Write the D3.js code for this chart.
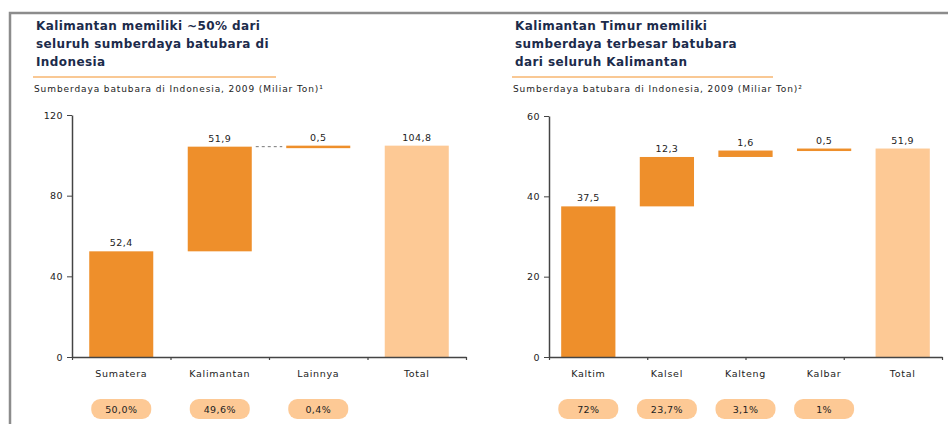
<!DOCTYPE html>
<html>
<head>
<meta charset="utf-8">
<script src="https://cdn.jsdelivr.net/npm/d3@7"></script>
<style>
  body { margin: 0; background: #fff; }
  svg { display: block; font-family: "DejaVu Sans", sans-serif; }
</style>
</head>
<body>
<svg id="chart" width="948" height="424"></svg>
<script>
// left panel data
var leftTitle = ["Kalimantan memiliki ~50% dari", "seluruh sumberdaya batubara di", "Indonesia"];
var leftSub = "Sumberdaya batubara di Indonesia, 2009 (Miliar Ton)\u00b9";
var leftCats = ["Sumatera", "Kalimantan", "Lainnya", "Total"];
var leftValues = [52.4, 51.9, 0.5, 104.8];
var leftLabels = ["52,4", "51,9", "0,5", "104,8"];
var leftShares = ["50,0%", "49,6%", "0,4%"];
var leftTicks = [0, 40, 80, 120];

// right panel data
var rightTitle = ["Kalimantan Timur memiliki", "sumberdaya terbesar batubara", "dari seluruh Kalimantan"];
var rightSub = "Sumberdaya batubara di Indonesia, 2009 (Miliar Ton)\u00b2";
var rightCats = ["Kaltim", "Kalsel", "Kalteng", "Kalbar", "Total"];
var rightValues = [37.5, 12.3, 1.6, 0.5, 51.9];
var rightLabels = ["37,5", "12,3", "1,6", "0,5", "51,9"];
var rightShares = ["72%", "23,7%", "3,1%", "1%"];
var rightTicks = [0, 20, 40, 60];

var orange = "#ee8f2b";
var light = "#fdc995";
var navy = "#1c2b4b";

var svg = d3.select("#chart");

// frame
svg.append("path")
    .attr("d", "M10,424 V13 H948")
    .attr("fill", "none")
    .attr("stroke", "#8c8c8c")
    .attr("stroke-width", 2.5);

function drawPanel(opt) {
    var g = svg.append("g");

    // title
    g.selectAll(".title").data(opt.title).enter().append("text")
        .attr("x", opt.tx)
        .attr("y", function (d, i) { return 30 + i * 18; })
        .attr("font-size", 12)
        .attr("font-weight", "bold")
        .attr("fill", navy)
        .attr("letter-spacing", 0.4)
        .text(function (d) { return d; });

    g.append("line")
        .attr("x1", opt.tx - 3).attr("x2", opt.lineEnd)
        .attr("y1", 77).attr("y2", 77)
        .attr("stroke", "#f9c894")
        .attr("stroke-width", 2);

    g.append("text")
        .attr("x", opt.tx - 2)
        .attr("y", 92)
        .attr("font-size", 9)
        .attr("letter-spacing", 0.9)
        .attr("fill", "#222")
        .text(opt.sub);

    var y = d3.scaleLinear().domain([0, opt.max]).range([357, opt.top]);
    var x = d3.scaleBand().domain(opt.cats).range([opt.x0, opt.x1])
        .paddingInner(opt.pad).paddingOuter(opt.pad / 2);

    // waterfall bases
    var bars = [];
    var run = 0;
    opt.values.forEach(function (v, i) {
        var total = i == opt.values.length - 1;
        var base = total ? 0 : run;
        bars.push({ cat: opt.cats[i], base: base, end: base + v, label: opt.labels[i], total: total });
        if (!total) run += v;
    });

    g.selectAll(".bar").data(bars).enter().append("rect")
        .attr("x", function (d) { return x(d.cat); })
        .attr("width", x.bandwidth())
        .attr("y", function (d) { return y(d.end); })
        .attr("height", function (d) { return Math.max(2.5, y(d.base) - y(d.end)); })
        .attr("fill", function (d) { return d.total ? light : orange; });

    g.selectAll(".val").data(bars).enter().append("text")
        .attr("x", function (d) { return x(d.cat) + x.bandwidth() / 2; })
        .attr("y", function (d) { return y(d.end) - 5; })
        .attr("text-anchor", "middle")
        .attr("font-size", 9.5)
        .attr("letter-spacing", 0.4)
        .attr("fill", "#222")
        .text(function (d) { return d.label; });

    // dashed connector
    if (opt.dash != null) {
        var a = bars[opt.dash], b = bars[opt.dash + 1];
        g.append("line")
            .attr("x1", x(a.cat) + x.bandwidth() + 4)
            .attr("x2", x(b.cat) - 4)
            .attr("y1", y(a.end)).attr("y2", y(a.end))
            .attr("stroke", "#777")
            .attr("stroke-width", 1)
            .attr("stroke-dasharray", "3,3");
    }

    // y axis
    g.append("g")
        .attr("transform", "translate(" + opt.x0 + ",0)")
        .call(d3.axisLeft(y).tickValues(opt.ticks).tickSize(5).tickPadding(4).tickSizeOuter(0))
        .call(function (s) {
            s.select(".domain").attr("stroke", "#444").attr("stroke-width", 1.5);
            s.selectAll(".tick line").attr("stroke", "#444");
            s.selectAll("text").attr("font-size", 9.5).attr("fill", "#222")
                .attr("letter-spacing", 0.4)
                .attr("font-family", "DejaVu Sans");
        });

    // x axis with ticks at quarter positions
    var q = d3.scaleLinear().domain([0, 4]).range([opt.x0, opt.x1]);
    g.append("g")
        .attr("transform", "translate(0,357)")
        .call(d3.axisBottom(q).ticks(4).tickSize(3).tickSizeOuter(0).tickFormat(""))
        .call(function (s) {
            s.select(".domain").attr("stroke", "#444").attr("stroke-width", 1.5);
            s.selectAll(".tick line").attr("stroke", "#444").attr("stroke-width", 1.2);
        });

    g.selectAll(".cat").data(opt.cats).enter().append("text")
        .attr("x", function (d) { return x(d) + x.bandwidth() / 2; })
        .attr("y", 377)
        .attr("text-anchor", "middle")
        .attr("font-size", 9.5)
        .attr("letter-spacing", 0.7)
        .attr("fill", "#222")
        .text(function (d) { return d; });

    // share pills
    var pills = g.selectAll(".pill").data(opt.shares).enter().append("g")
        .attr("transform", function (d, i) {
            return "translate(" + (x(opt.cats[i]) + x.bandwidth() / 2) + ",409)";
        });
    pills.append("rect")
        .attr("x", -30).attr("y", -10)
        .attr("width", 60).attr("height", 20)
        .attr("rx", 9)
        .attr("fill", light);
    pills.append("text")
        .attr("y", 3.5)
        .attr("text-anchor", "middle")
        .attr("font-size", 9.5)
        .attr("letter-spacing", 0.4)
        .attr("fill", "#222")
        .text(function (d) { return d; });
}

drawPanel({
    title: leftTitle, sub: leftSub, tx: 36, lineEnd: 276,
    cats: leftCats, values: leftValues, labels: leftLabels, shares: leftShares,
    ticks: leftTicks, max: 120, top: 115, x0: 72, x1: 466, pad: 0.35, dash: 1
});

drawPanel({
    title: rightTitle, sub: rightSub, tx: 515, lineEnd: 773,
    cats: rightCats, values: rightValues, labels: rightLabels, shares: rightShares,
    ticks: rightTicks, max: 60, top: 116, x0: 549, x1: 942, pad: 0.31, dash: null
});
</script>
</body>
</html>
